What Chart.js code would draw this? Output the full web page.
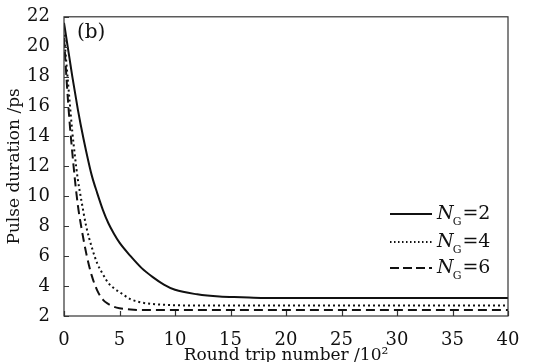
<!DOCTYPE html>
<html>
<head>
<meta charset="utf-8">
<script src="https://cdn.jsdelivr.net/npm/chart.js@4.4.0/dist/chart.umd.min.js"></script>
<style>
  html, body { margin: 0; padding: 0; background: #fff; }
  #wrap { width: 535px; height: 362px; position: relative; }
</style>
</head>
<body>
<div id="wrap"><canvas id="grafica"></canvas></div>
<script>
// datos
const roundTrips = [0, 0.25, 0.5, 0.75, 1, 1.25, 1.5, 2, 2.5, 3, 3.5, 4, 4.5, 5, 6, 7, 8, 9, 10, 12, 14, 16, 18, 20, 25, 30, 35, 40];
const durNG2 = [21.6, 20.4, 19.2, 18.0, 16.9, 15.8, 14.8, 13.0, 11.4, 10.2, 9.1, 8.2, 7.5, 6.9, 6.0, 5.2, 4.6, 4.1, 3.75, 3.45, 3.3, 3.25, 3.2, 3.2, 3.2, 3.2, 3.2, 3.2];
const durNG4 = [20.8, 18.6, 16.4, 14.3, 12.6, 11.1, 10.0, 8.0, 6.6, 5.5, 4.8, 4.2, 3.85, 3.6, 3.12, 2.9, 2.8, 2.75, 2.72, 2.7, 2.7, 2.7, 2.7, 2.7, 2.7, 2.7, 2.7, 2.7];
const durNG6 = [20.6, 17.6, 15.0, 12.9, 11.0, 9.4, 8.2, 6.2, 4.7, 3.7, 3.1, 2.8, 2.62, 2.52, 2.43, 2.4, 2.4, 2.4, 2.4, 2.4, 2.4, 2.4, 2.4, 2.4, 2.4, 2.4, 2.4, 2.4];
const seriesLabels = ['2', '4', '6'];
const xTicks = [0, 5, 10, 15, 20, 25, 30, 35, 40];
const yTicks = [2, 4, 6, 8, 10, 12, 14, 16, 18, 20, 22];

const serif = '"DejaVu Serif", "Liberation Serif", serif';
const dashes = [[], [2, 3], [9, 5]];
const legendDash = [[], [1.5, 2.5], [9, 4]];

const toPoints = (ys) => roundTrips.map((x, i) => ({ x: x, y: ys[i] }));

// marco, ticks hacia dentro, leyenda y "(b)"
const decoracion = {
  id: 'decoracion',
  afterDatasetsDraw(chart) {
    const { ctx, chartArea: a, scales } = chart;
    ctx.save();
    ctx.strokeStyle = '#333';
    ctx.lineWidth = 1.2;
    ctx.strokeRect(a.left, a.top, a.right - a.left, a.bottom - a.top);
    ctx.beginPath();
    xTicks.forEach(v => {
      const px = Math.round(scales.x.getPixelForValue(v)) + 0.5;
      ctx.moveTo(px, a.bottom);
      ctx.lineTo(px, a.bottom - 5);
    });
    yTicks.forEach(v => {
      const py = Math.round(scales.y.getPixelForValue(v)) + 0.5;
      ctx.moveTo(a.left, py);
      ctx.lineTo(a.left + 5, py);
    });
    ctx.stroke();

    // (b)
    ctx.fillStyle = '#111';
    ctx.font = '20px ' + serif;
    ctx.textBaseline = 'middle';
    ctx.textAlign = 'left';
    ctx.fillText('(b)', 77, 33);

    // leyenda
    const rows = [214, 242, 268];
    rows.forEach((y, i) => {
      ctx.beginPath();
      ctx.setLineDash(legendDash[i]);
      ctx.lineWidth = 2;
      ctx.strokeStyle = '#111';
      ctx.moveTo(390, y);
      ctx.lineTo(432, y);
      ctx.stroke();
      ctx.setLineDash([]);
      ctx.font = 'italic 19px ' + serif;
      ctx.textBaseline = 'middle';
      ctx.fillText('N', 437, y);
      const wN = ctx.measureText('N').width;
      ctx.font = '11px ' + serif;
      ctx.fillText('G', 437 + wN - 1, y + 8);
      const wG = ctx.measureText('G').width;
      ctx.font = '19px ' + serif;
      ctx.fillText('=' + seriesLabels[i], 437 + wN + wG, y);
    });
    ctx.restore();
  }
};

new Chart(document.getElementById('grafica').getContext('2d'), {
  type: 'line',
  data: {
    datasets: [durNG2, durNG4, durNG6].map((d, i) => ({
      label: 'NG=' + seriesLabels[i],
      data: toPoints(d),
      borderColor: '#111',
      borderWidth: 2,
      borderDash: dashes[i],
      pointRadius: 0,
      cubicInterpolationMode: 'monotone',
      fill: false
    }))
  },
  options: {
    responsive: true,
    maintainAspectRatio: false,
    animation: false,
    layout: { padding: { top: 13, right: 27, left: 0, bottom: 0 } },
    plugins: { legend: { display: false }, tooltip: { enabled: false } },
    scales: {
      x: {
        type: 'linear',
        min: 0,
        max: 40,
        afterFit: (s) => { s.height = 46; },
        afterBuildTicks: (s) => { s.ticks = xTicks.map(v => ({ value: v })); },
        grid: { display: false },
        border: { display: false },
        ticks: { color: '#111', font: { family: serif, size: 18 }, padding: 6, maxRotation: 0 },
        title: {
          display: true,
          text: 'Round trip number /10²',
          color: '#111',
          font: { family: serif, size: 17 },
          padding: { top: 0, bottom: -4 }
        }
      },
      y: {
        min: 2,
        max: 22,
        afterFit: (s) => { s.width = 64; },
        afterBuildTicks: (s) => { s.ticks = yTicks.map(v => ({ value: v })); },
        grid: { display: false },
        border: { display: false },
        ticks: { color: '#111', font: { family: serif, size: 18 }, padding: 6 },
        title: {
          display: true,
          text: 'Pulse duration /ps',
          color: '#111',
          font: { family: serif, size: 17 },
          padding: { top: 4, bottom: 0 }
        }
      }
    }
  },
  plugins: [decoracion]
});
</script>
</body>
</html>
